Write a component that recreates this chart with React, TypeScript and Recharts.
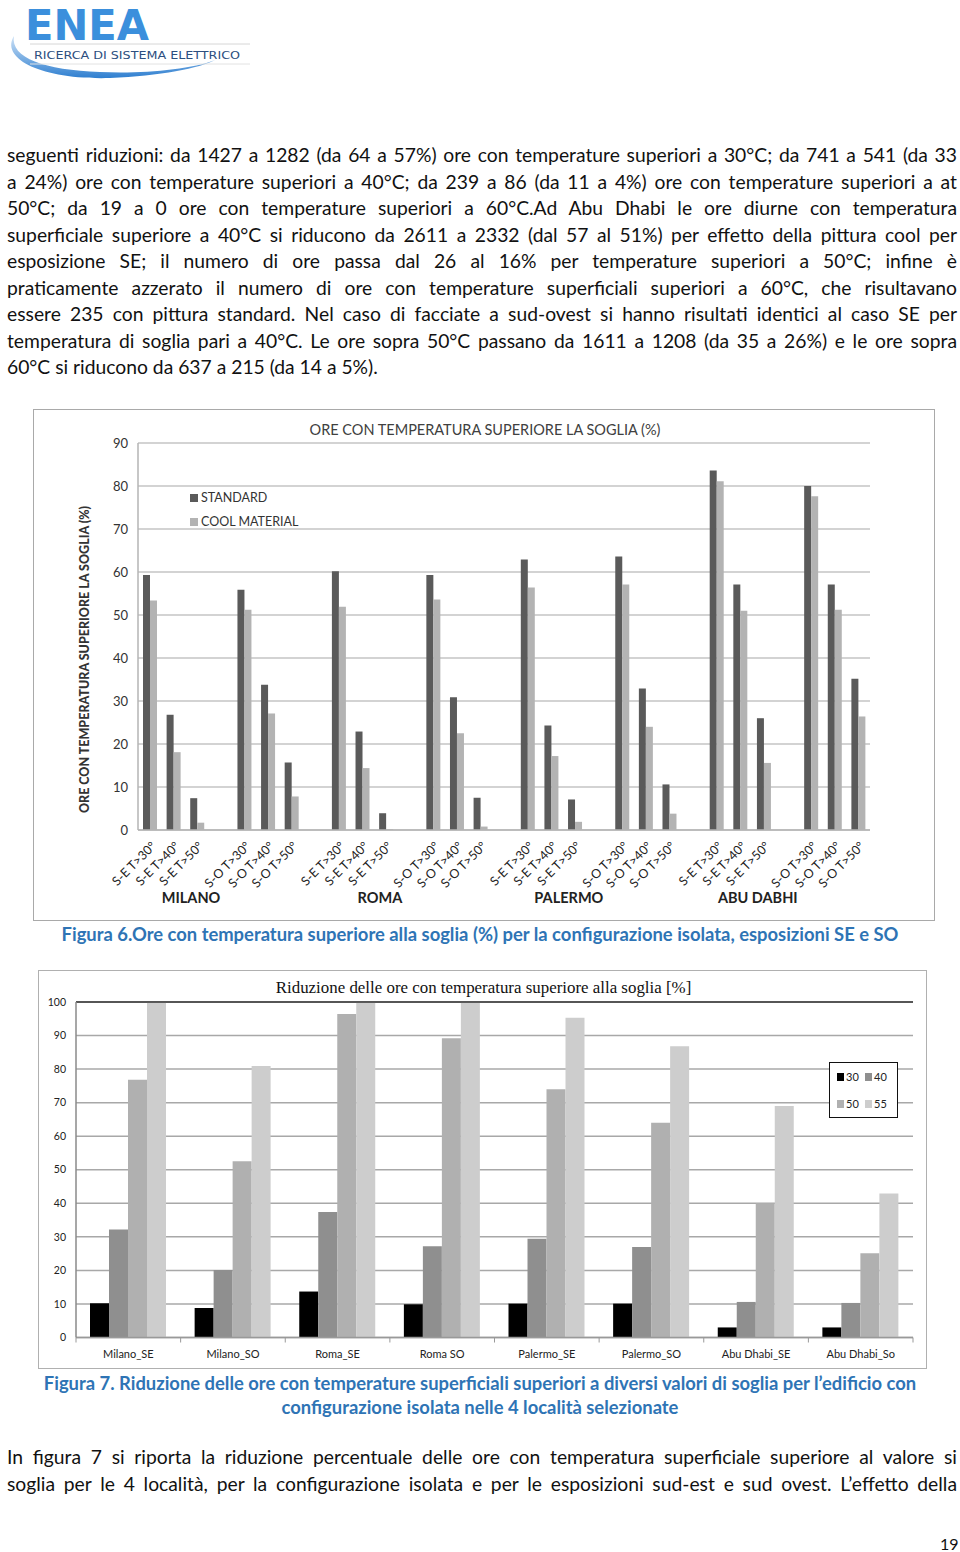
import { Bar, BarChart, CartesianGrid, Legend, ReferenceLine, XAxis, YAxis } from "recharts";

// Figura 6 data
const cities1 = ["MILANO", "ROMA", "PALERMO", "ABU DABHI"];
const thresholdLabels1 = ["S-E T>30°", "S-E T>40°", "S-E T>50°", "S-O T>30°", "S-O T>40°", "S-O T>50°"];
const standardValues = [
  59.3, 26.8, 7.4, 55.9, 33.8, 15.7,
  60.2, 22.9, 3.9, 59.3, 30.9, 7.5,
  62.9, 24.3, 7.1, 63.6, 32.9, 10.6,
  83.6, 57.1, 26.0, 80.0, 57.1, 35.2,
];
const coolValues = [
  53.4, 18.1, 1.7, 51.2, 27.1, 7.8,
  51.9, 14.4, 0.2, 53.6, 22.5, 0.8,
  56.4, 17.2, 1.9, 57.1, 24.0, 3.8,
  81.1, 51.0, 15.6, 77.6, 51.2, 26.4,
];
const yTicks1 = [0, 10, 20, 30, 40, 50, 60, 70, 80, 90];

// Figura 7 data
const locations2 = ["Milano_SE", "Milano_SO", "Roma_SE", "Roma SO", "Palermo_SE", "Palermo_SO", "Abu Dhabi_SE", "Abu Dhabi_So"];
const red30 = [10.2, 8.8, 13.7, 9.9, 10.1, 10.1, 3.0, 3.0];
const red40 = [32.2, 20.1, 37.4, 27.2, 29.4, 27.0, 10.6, 10.3];
const red50 = [76.8, 52.5, 96.4, 89.2, 74.0, 64.0, 40.0, 25.1];
const red55 = [100, 80.9, 100, 100, 95.3, 86.8, 69.0, 42.9];
const yTicks2 = [0, 10, 20, 30, 40, 50, 60, 70, 80, 90, 100];

type Row1 = { key: string; label: string; city: string; standard: number | null; cool: number | null };

// triplets S-E / S-O per city, with an empty slot between each triplet
const data1: Row1[] = [];
standardValues.forEach((v, i) => {
  if (i > 0 && i % 3 === 0) {
    data1.push({ key: `gap${i}`, label: "", city: "", standard: null, cool: null });
  }
  data1.push({
    key: `c${i}`,
    label: thresholdLabels1[i % 6],
    city: i % 6 === 2 ? cities1[Math.floor(i / 6)] : "",
    standard: v,
    cool: coolValues[i],
  });
});

const data2 = locations2.map((name, i) => ({
  name,
  t30: red30[i],
  t40: red40[i],
  t50: red50[i],
  t55: red55[i],
}));

const bodyFont = "Lato, 'Open Sans', sans-serif";
const captionColor = "#2e74b5";

const paragraph1 = [
  "seguenti riduzioni: da 1427 a 1282 (da 64 a 57%) ore con temperature superiori a 30°C; da 741 a 541 (da 33",
  "a 24%) ore con temperature superiori a 40°C; da 239 a 86 (da 11 a 4%) ore con temperature superiori a at",
  "50°C; da 19 a 0 ore con temperature superiori a 60°C.Ad Abu Dhabi le ore diurne con temperatura",
  "superficiale superiore a 40°C si riducono da 2611 a 2332 (dal 57 al 51%) per effetto della pittura cool per",
  "esposizione SE; il numero di ore passa dal 26 al 16% per temperature superiori a 50°C; infine è",
  "praticamente azzerato il numero di ore con temperature superficiali superiori a 60°C, che risultavano",
  "essere 235 con pittura standard. Nel caso di facciate a sud-ovest si hanno risultati identici al caso SE per",
  "temperatura di soglia pari a 40°C. Le ore sopra 50°C passano da 1611 a 1208 (da 35 a 26%) e le ore sopra",
  "60°C si riducono da 637 a 215 (da 14 a 5%).",
];

const paragraph2 = [
  "In figura 7 si riporta la riduzione percentuale delle ore con temperatura superficiale superiore al valore si",
  "soglia per le 4 località, per la configurazione isolata e per le esposizioni sud-est e sud ovest. L’effetto della",
];

const Lines = ({ lines, top, justifyLast }: { lines: string[]; top: number; justifyLast: boolean }) => (
  <div style={{ position: "absolute", left: 7, top, width: 950, fontFamily: bodyFont, fontSize: 19.3, lineHeight: "26.5px", color: "#111" }}>
    {lines.map((l, i) => {
      const last = i === lines.length - 1 && !justifyLast;
      return (
        <div
          key={i}
          style={{
            whiteSpace: "nowrap",
            textAlign: last ? "left" : "justify",
            textAlignLast: last ? "left" : "justify",
          }}
        >
          {l}
        </div>
      );
    })}
  </div>
);

const Logo = () => (
  <svg width={260} height={85} style={{ position: "absolute", left: 0, top: 0 }}>
    <defs>
      <linearGradient id="sw" x1="0" y1="0" x2="0" y2="1">
        <stop offset="0" stopColor="#cfe3f7" />
        <stop offset="1" stopColor="#2f7fd0" />
      </linearGradient>
    </defs>
    <path d="M 14 36 C 0 58, 40 80, 110 78 C 160 76, 200 68, 215 60 C 190 70, 140 74, 100 72 C 45 70, 10 58, 14 36 Z" fill="url(#sw)" />
    <text x={25} y={40} fontFamily="'DejaVu Sans', sans-serif" fontWeight="bold" fontSize={42} fill="#3b8fdc" textLength={124} lengthAdjust="spacingAndGlyphs">
      ENEA
    </text>
    <line x1={30} y1={44} x2={250} y2={44} stroke="#d6d6d6" strokeWidth={1} />
    <line x1={30} y1={64} x2={250} y2={64} stroke="#e2e2e2" strokeWidth={1} />
    <text x={34} y={59} fontFamily="'DejaVu Sans', sans-serif" fontSize={10.5} fill="#2d4f80" textLength={206} lengthAdjust="spacingAndGlyphs">
      RICERCA DI SISTEMA ELETTRICO
    </text>
  </svg>
);

const SlantTick = (props: any) => {
  const { x, y, payload } = props;
  const row = data1.find((d) => d.key === payload.value);
  if (!row) return null;
  return (
    <g transform={`translate(${x},${y})`}>
      {row.label && (
        <text x={0} y={0} transform="translate(7,17) rotate(-45)" textAnchor="end" fontFamily={bodyFont} fontSize={12.5} fill="#222">
          {row.label}
        </text>
      )}
      {row.city && (
        <text x={-6} y={73} textAnchor="middle" fontFamily={bodyFont} fontWeight="bold" fontSize={14.5} fill="#222">
          {row.city}
        </text>
      )}
    </g>
  );
};

const Legend1 = () => (
  <div style={{ fontFamily: bodyFont, fontSize: 12.5, color: "#333", lineHeight: "24px" }}>
    {[
      { name: "STANDARD", color: "#5a5a5a" },
      { name: "COOL MATERIAL", color: "#b3b3b3" },
    ].map((it) => (
      <div key={it.name} style={{ display: "flex", alignItems: "center" }}>
        <span style={{ display: "inline-block", width: 8, height: 8, background: it.color, marginRight: 3 }} />
        {it.name}
      </div>
    ))}
  </div>
);

const LocationTick = (props: any) => {
  const { x, y, payload, index } = props;
  const half = payload.offset || 52.3;
  return (
    <g transform={`translate(${x},${y})`}>
      <line x1={-half} y1={0} x2={-half} y2={5} stroke="#999" />
      {index === locations2.length - 1 && <line x1={half} y1={0} x2={half} y2={5} stroke="#999" />}
      <text x={0} y={20} textAnchor="middle" fontFamily={bodyFont} fontSize={11} fill="#222">
        {payload.value}
      </text>
    </g>
  );
};

const legend2Items = [
  { name: "30", color: "#000000" },
  { name: "40", color: "#8f8f8f" },
  { name: "50", color: "#b0b0b0" },
  { name: "55", color: "#cdcdcd" },
];

const Legend2 = () => (
  <div
    style={{
      width: 69,
      height: 56,
      boxSizing: "border-box",
      border: "1.5px solid #111",
      background: "#fff",
      display: "grid",
      gridTemplateColumns: "1fr 1fr",
      alignItems: "center",
      padding: "0 4px 0 7px",
      fontFamily: bodyFont,
      fontSize: 11,
      color: "#222",
    }}
  >
    {legend2Items.map((it) => (
      <div key={it.name} style={{ display: "flex", alignItems: "center" }}>
        <span style={{ display: "inline-block", width: 7, height: 8, background: it.color, marginRight: 2 }} />
        {it.name}
      </div>
    ))}
  </div>
);

const Chart1 = () => (
  <div style={{ position: "absolute", left: 33, top: 409, width: 902, height: 512, border: "1px solid #a9a9a9", boxSizing: "border-box" }}>
    <div style={{ position: "absolute", left: 0, right: 0, top: 11, textAlign: "center", fontFamily: bodyFont, fontSize: 14.5, color: "#404040", paddingLeft: 2 }}>
      ORE CON TEMPERATURA SUPERIORE LA SOGLIA (%)
    </div>
    <div
      style={{
        position: "absolute",
        left: 50 - 160,
        top: 250 - 8,
        width: 320,
        textAlign: "center",
        transform: "rotate(-90deg)",
        fontFamily: bodyFont,
        fontWeight: 900,
        fontSize: 12.5,
        color: "#333",
        whiteSpace: "nowrap",
      }}
    >
      ORE CON TEMPERATURA SUPERIORE LA SOGLIA (%)
    </div>
    <BarChart width={900} height={510} data={data1} margin={{ top: 33, right: 64, bottom: 0, left: 0 }} barGap={0} barSize={7}>
      <CartesianGrid vertical={false} stroke="#c4c4c4" strokeWidth={1.5} />
      <XAxis dataKey="key" interval={0} height={90} tickLine={false} axisLine={{ stroke: "#b5b5b5", strokeWidth: 1.5 }} tickSize={0} tickMargin={0} tick={<SlantTick />} />
      <YAxis
        domain={[0, 90]}
        ticks={yTicks1}
        width={104}
        tickLine={false}
        tickSize={0}
        tickMargin={10}
        axisLine={{ stroke: "#b5b5b5", strokeWidth: 1.5 }}
        tick={{ fontFamily: bodyFont, fontSize: 13, fill: "#333" }}
        interval={0}
      />
      <YAxis yAxisId="r" orientation="right" domain={[0, 90]} width={0} tick={false} tickLine={false} axisLine={{ stroke: "#b5b5b5", strokeWidth: 1.5 }} />
      <Legend verticalAlign="middle" align="center" layout="vertical" content={<Legend1 />} wrapperStyle={{ position: "absolute", left: 156, top: 76, width: 140 }} />
      <Bar dataKey="standard" name="STANDARD" fill="#5a5a5a" isAnimationActive={false} />
      <Bar dataKey="cool" name="COOL MATERIAL" fill="#b3b3b3" isAnimationActive={false} />
    </BarChart>
  </div>
);

const Chart2 = () => (
  <div style={{ position: "absolute", left: 38, top: 970, width: 889, height: 399, border: "1px solid #b0b0b0", boxSizing: "border-box" }}>
    <div style={{ position: "absolute", left: 0, right: 0, top: 7, textAlign: "center", fontFamily: "'Liberation Serif', 'DejaVu Serif', serif", fontSize: 16.9, color: "#111", paddingLeft: 2 }}>
      Riduzione delle ore con temperatura superiore alla soglia [%]
    </div>
    <BarChart width={887} height={397} data={data2} margin={{ top: 31, right: 13, bottom: 0, left: 0 }} barGap={0} barSize={19}>
      <CartesianGrid vertical={false} stroke="#a8a8a8" strokeWidth={1.5} />
      <XAxis dataKey="name" interval={0} height={30.5} tickLine={false} tickSize={0} tickMargin={0} axisLine={{ stroke: "#999", strokeWidth: 1.5 }} tick={<LocationTick />} />
      <YAxis
        domain={[0, 100]}
        ticks={yTicks2}
        width={37}
        tickLine={false}
        tickSize={0}
        tickMargin={10}
        axisLine={{ stroke: "#8a8a8a", strokeWidth: 1.5 }}
        tick={{ fontFamily: bodyFont, fontSize: 10.5, fill: "#222" }}
        interval={0}
      />
      <YAxis yAxisId="r" orientation="right" domain={[0, 100]} width={0} tick={false} tickLine={false} axisLine={{ stroke: "#333", strokeWidth: 1.5 }} />
      <ReferenceLine y={100} stroke="#333" strokeWidth={1.5} />
      <Legend verticalAlign="middle" align="center" layout="vertical" content={<Legend2 />} wrapperStyle={{ position: "absolute", left: 790, top: 91, width: 69 }} />
      <Bar dataKey="t30" name="30" fill="#000000" isAnimationActive={false} />
      <Bar dataKey="t40" name="40" fill="#8f8f8f" isAnimationActive={false} />
      <Bar dataKey="t50" name="50" fill="#b0b0b0" isAnimationActive={false} />
      <Bar dataKey="t55" name="55" fill="#cdcdcd" isAnimationActive={false} />
    </BarChart>
  </div>
);

const captionStyle: React.CSSProperties = {
  position: "absolute",
  left: 0,
  width: 960,
  textAlign: "center",
  fontFamily: bodyFont,
  fontWeight: "bold",
  fontSize: 18.4,
  color: captionColor,
  lineHeight: "24px",
  whiteSpace: "nowrap",
};

export default function App() {
  return (
    <div style={{ position: "absolute", left: 0, top: 0, width: 960, height: 1552, background: "#fff", overflow: "hidden" }}>
      <Logo />
      <Lines lines={paragraph1} top={142} justifyLast={false} />
      <Chart1 />
      <div style={{ ...captionStyle, top: 922 }}>
        Figura 6.Ore con temperatura superiore alla soglia (%) per la configurazione isolata, esposizioni SE e SO
      </div>
      <Chart2 />
      <div style={{ ...captionStyle, top: 1371 }}>
        <div>Figura 7. Riduzione delle ore con temperature superficiali superiori a diversi valori di soglia per l’edificio con</div>
        <div>configurazione isolata nelle 4 località selezionate</div>
      </div>
      <Lines lines={paragraph2} top={1444} justifyLast={true} />
      <div style={{ position: "absolute", left: 940, top: 1534, fontFamily: bodyFont, fontSize: 16, color: "#111" }}>19</div>
    </div>
  );
}
